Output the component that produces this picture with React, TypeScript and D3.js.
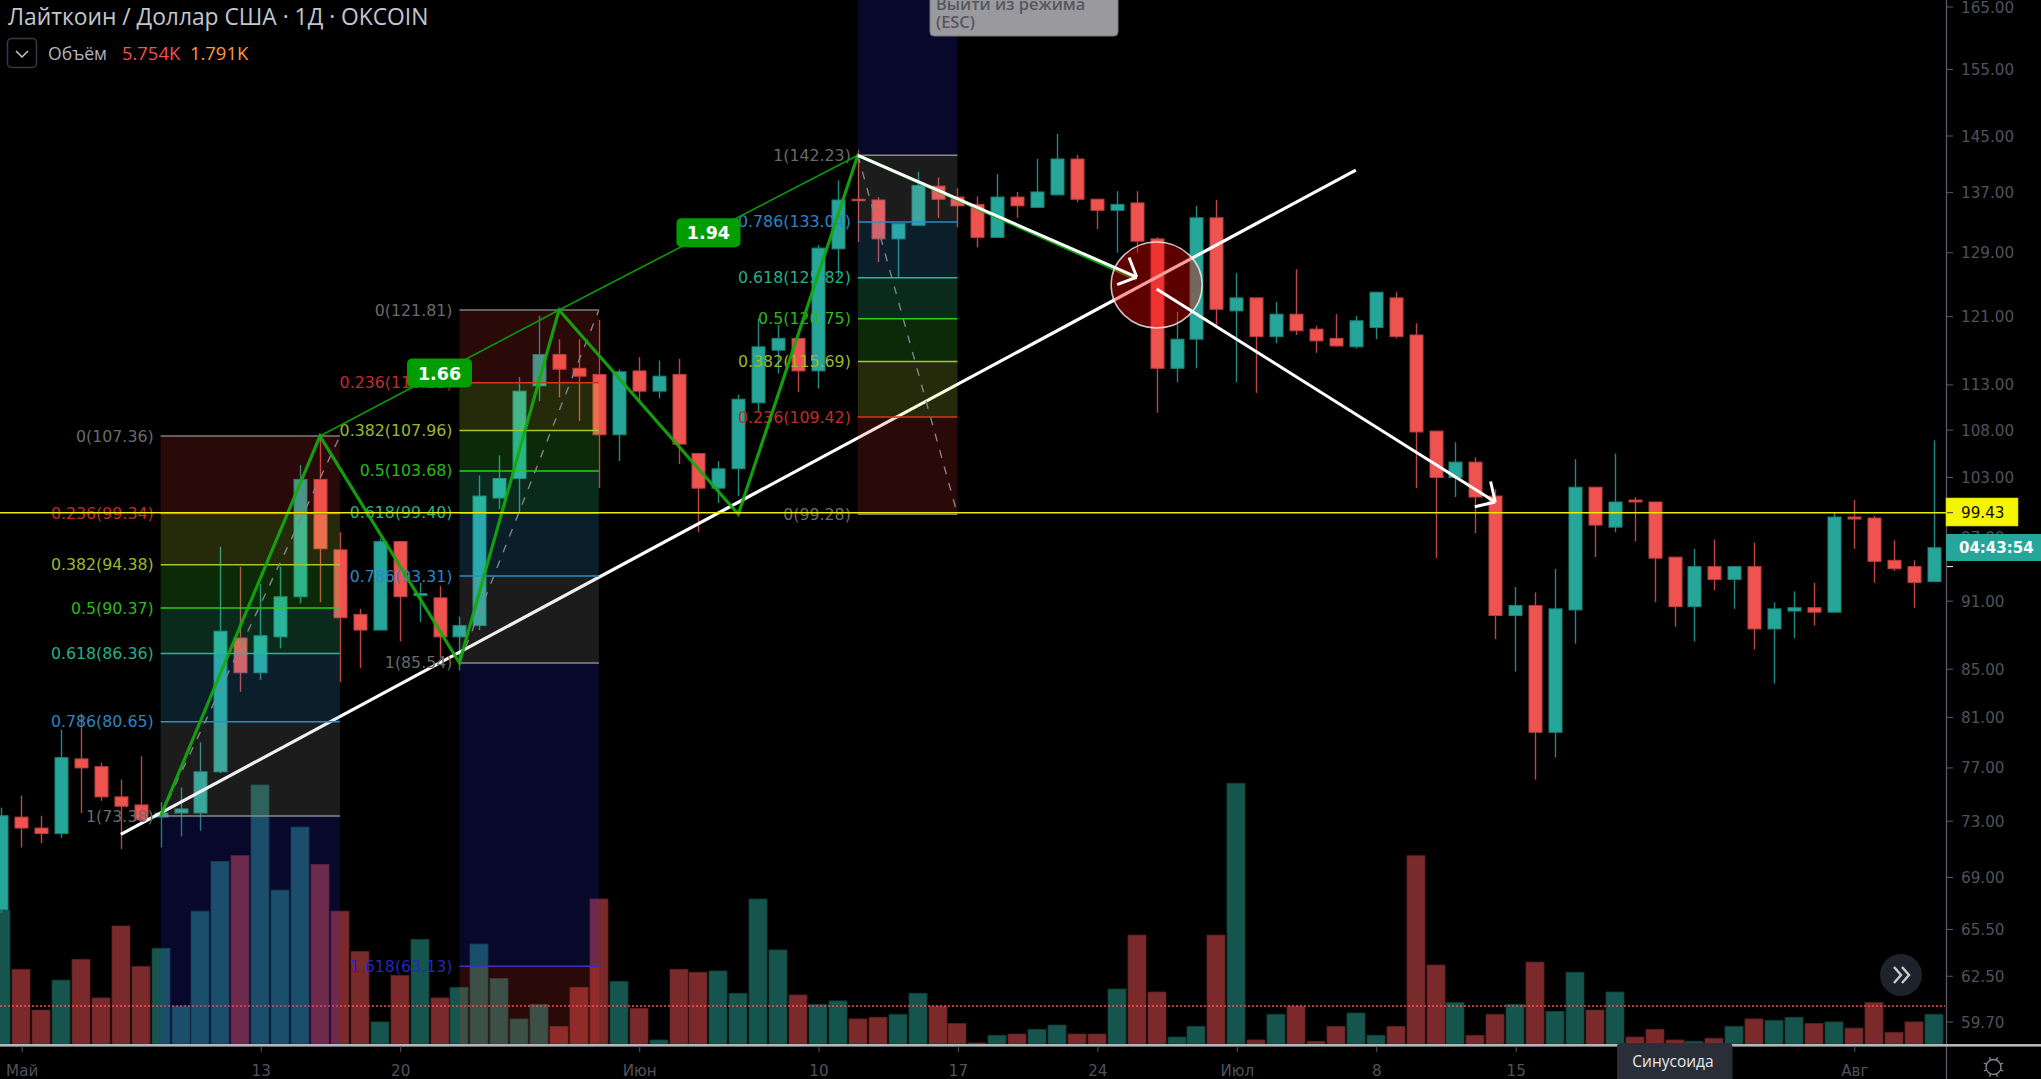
import React, { useEffect } from "react";
import * as d3 from "d3";

const W = 2041, H = 1079;

const opens = [66.8,73.3,72.5,72.1,77.7,77.1,74.8,74.2,73.3,73.6,73.6,76.7,87.7,84.7,87.8,91.4,102.8,95.8,89.8,88.4,96.6,91.5,91.3,87.8,88.8,100.9,102.9,112.9,116.5,114.9,114.2,107.5,114.6,112.3,114.2,105.5,101.9,103.9,111.0,117.0,118.4,114.6,129.5,136.1,136.0,130.8,132.6,137.9,136.4,135.4,131.0,136.4,135.0,136.7,141.7,136.1,134.6,135.6,130.8,114.9,118.3,133.6,121.7,123.3,118.6,121.3,119.5,118.4,117.4,119.7,123.3,118.8,107.9,103.0,104.6,101.1,89.7,90.6,79.8,90.2,102.0,98.0,100.7,100.5,95.1,90.5,94.2,93.0,94.2,88.5,90.1,90.4,90.0,99.0,98.9,94.8,94.2,92.8];
const highs = [74.0,74.9,73.4,80.0,81.3,77.4,76.1,77.9,74.4,75.5,79.0,96.1,94.2,92.6,94.2,104.3,107.6,97.5,90.3,96.9,96.6,92.7,92.4,89.6,103.2,105.3,113.9,121.1,118.3,118.3,120.6,114.8,116.2,115.8,116.0,105.6,104.7,111.9,120.8,120.0,118.4,130.0,138.7,143.0,136.4,132.8,139.9,139.1,137.6,136.5,139.6,137.1,141.7,145.3,142.3,136.1,137.2,137.2,131.0,121.6,135.2,136.0,126.4,123.3,122.8,126.9,119.9,121.3,121.1,124.0,124.0,120.2,107.9,106.7,105.1,101.8,92.3,91.8,94.0,104.9,102.0,105.5,101.0,100.5,95.1,95.9,96.8,94.2,96.5,90.9,91.9,92.7,99.4,100.7,99.1,96.7,94.8,106.9];
const lows = [66.6,71.1,71.4,71.8,73.6,74.5,71.0,72.9,71.1,71.9,72.3,76.6,83.1,84.1,86.8,90.8,90.9,83.9,85.1,88.4,87.4,89.1,86.0,84.9,88.4,99.8,99.4,111.2,111.6,109.0,101.9,104.7,111.2,111.5,104.4,97.5,100.4,101.1,110.0,114.3,112.2,112.6,125.9,130.4,127.8,125.9,132.6,133.6,132.3,129.7,131.0,133.6,135.0,136.7,135.7,132.1,129.0,129.0,109.9,113.3,114.9,120.0,113.3,112.1,117.8,118.8,116.7,117.4,117.2,118.3,118.4,101.9,95.0,101.0,97.4,87.6,84.8,76.1,77.8,87.2,95.1,97.5,96.6,90.9,88.7,87.4,92.0,90.3,86.7,83.8,87.7,88.8,90.0,95.9,92.7,93.8,90.4,92.8];
const closes = [73.4,72.5,72.1,77.8,77.0,74.8,74.1,73.1,73.6,73.9,76.7,88.3,84.7,87.9,91.4,102.8,95.9,89.5,88.4,96.6,91.4,91.7,87.8,88.8,101.1,102.9,112.3,116.5,114.8,114.0,107.5,114.5,112.3,114.0,106.5,101.9,103.9,111.4,117.4,118.4,114.6,129.6,136.0,135.9,130.8,132.8,138.0,136.1,135.2,131.0,136.4,135.2,137.1,141.7,136.1,134.6,135.4,130.5,114.9,118.3,133.6,121.9,123.3,118.6,121.3,119.3,118.1,117.5,120.5,124.0,118.6,107.8,103.0,104.6,101.0,89.7,90.6,79.8,90.3,102.0,98.2,100.5,100.5,95.0,90.5,94.2,93.0,94.2,88.5,90.3,90.4,90.0,99.0,98.8,94.7,94.0,92.7,96.0];
const volumes = [6.31,3.52,1.60,3.01,3.99,2.17,5.56,3.66,4.51,1.79,6.26,8.60,8.87,12.20,7.25,10.22,8.46,6.26,4.36,1.04,3.23,4.93,2.17,2.67,4.71,3.09,1.18,1.87,0.83,2.67,6.83,2.95,1.68,0.19,3.52,3.38,3.44,2.39,6.83,4.43,2.31,1.87,2.03,1.18,1.26,1.40,2.39,1.79,0.97,0.05,0.41,0.47,0.69,0.89,0.47,0.47,2.59,5.13,2.45,0.33,0.83,5.13,12.28,0.19,1.40,1.79,0.13,0.83,1.46,0.41,0.83,8.87,3.72,1.96,0.41,1.40,1.87,3.86,1.54,3.38,1.60,2.45,0.33,0.69,0.19,0.13,0.27,0.83,1.18,1.11,1.26,0.97,1.04,0.75,1.96,0.55,1.04,1.40];
const volumeMA = 1.791;

const priceTicks = [165,155,145,137,129,121,113,108,103,97,91,85,81,77,73,69,65.5,62.5,59.7];
const dateTickIdx = [1,13,20,32,41,48,55,62,69,76,93];
const dateTickLabels = ["Май","13","20","Июн","10","17","24","Июл","8","15","Авг"];

const fibRatios = [0,0.236,0.382,0.5,0.618,0.786,1,1.618];
const fib1Prices = [107.36,99.34,94.38,90.37,86.36,80.65,73.38];
const fib2Prices = [121.81,113.25,107.96,103.68,99.40,93.31,85.54,63.13];
const fib3Prices = [99.28,109.42,115.69,120.75,125.82,133.04,142.23];
const fib1Span = [8,17];
const fib2Span = [23,30];
const fib3Span = [43,48];

const zigIdx = [8,16,23,28,37,43,57];
const zigPrice = [73.38,107.36,85.54,121.81,99.28,142.23,125.6];
const trendIdx = [6,68];
const trendPrice = [72.04,140.14];
const arrow1Idx = [43,57];
const arrow1Price = [142.23,125.9];
const arrow2Idx = [58,75];
const arrow2Price = [124.4,100.5];
const circleIdx = 58;
const circlePrice = 124.9;
const hLinePrice = 99.43;
const lastLabel = "04:43:54";
const lastPrice = 94.2;
const badge1 = "1.66";
const badge2 = "1.94";

const x = d3.scaleLinear().domain([0, 97]).range([1.3, 1933.5]);
const y = d3.scaleLog().domain([165, 59.7]).range([7, 1022]);
const yV = d3.scaleLinear().domain([0, 12.28]).range([1044, 783.3]);

const levelColor = ["#6a6a6a","#c42a2a","#9bb82a","#2cb81c","#23b088","#2a85c4","#6a6a6a","#2626b8"];
const lineColor = ["#7e7e7e","#d8341e","#a4c82a","#2ccc1c","#26b896","#2a8cc8","#8a8a8a","#3a30c0"];
const bandColor = ["rgb(247,59,47)","rgb(218,247,59)","rgb(70,247,47)","rgb(59,247,165)","rgb(59,182,247)","rgb(165,165,165)","rgb(47,47,247)"];
const bandOp = 0.17;
const AXIS_FONT = "'DejaVu Sans', sans-serif";
const LABEL_FONT = "'DejaVu Sans', sans-serif";
const UI_FONT = "'Open Sans', sans-serif";
const BOTTOM = 1044;

function Fib({ prices, span, edgeY }: { prices: number[]; span: number[]; edgeY: number }) {
  const x0 = x(span[0]), x1 = x(span[1]);
  const ys = prices.map((p) => y(p));
  const lastLvl = ys.length - 1;
  return (
    <g>
      {ys.slice(0, -1).map((yy, i) => (
        <rect key={i} x={x0} width={x1 - x0} y={Math.min(yy, ys[i + 1])} height={Math.abs(ys[i + 1] - yy)} fill={bandColor[i]} opacity={bandOp} />
      ))}
      <rect x={x0} width={x1 - x0} y={Math.min(ys[lastLvl], edgeY)} height={Math.abs(edgeY - ys[lastLvl])} fill={bandColor[6]} opacity={bandOp} />
      {ys.map((yy, i) => (
        <line key={i} x1={x0} x2={x1} y1={yy} y2={yy} stroke={lineColor[i]} strokeWidth={1.5} />
      ))}
    </g>
  );
}

function FibLabels({ prices, span }: { prices: number[]; span: number[] }) {
  return (
    <g fontFamily={LABEL_FONT} fontSize={15.8} textAnchor="end">
      {prices.map((p, i) => (
        <text key={i} x={x(span[0]) - 7} y={y(p) + 5.5} fill={levelColor[i]}>
          {`${fibRatios[i]}(${p.toFixed(2)})`}
        </text>
      ))}
    </g>
  );
}

function Arrow({ xs, ps }: { xs: number[]; ps: number[] }) {
  const x0 = x(xs[0]), y0 = y(ps[0]), x1 = x(xs[1]), y1 = y(ps[1]);
  const a = Math.atan2(y1 - y0, x1 - x0);
  const L = 21;
  const wing = (d: number) => `M${x1 + L * Math.cos(a + d)},${y1 + L * Math.sin(a + d)}L${x1},${y1}`;
  return (
    <g stroke="#fff" strokeWidth={3} fill="none">
      <line x1={x0} y1={y0} x2={x1} y2={y1} />
      <path d={wing(Math.PI * 0.75)} />
      <path d={wing(-Math.PI * 0.75)} />
    </g>
  );
}

function Badge({ cx, cy, w, h, text }: { cx: number; cy: number; w: number; h: number; text: string }) {
  return (
    <g>
      <rect x={cx - w / 2} y={cy - h / 2} width={w} height={h} rx={5} fill="#009e00" />
      <text x={cx} y={cy + 6.5} textAnchor="middle" fill="#fff" fontFamily={LABEL_FONT} fontSize={17.5} fontWeight={600}>{text}</text>
    </g>
  );
}

export default function App() {
  useEffect(() => {
    document.body.style.margin = "0";
    document.body.style.overflow = "hidden";
  }, []);
  const zig = d3.line<number>().x((d) => x(d)).y((_, i) => y(zigPrice[i]));
  const isUp = (i: number) => closes[i] >= opens[i];

  const b1x = (x(zigIdx[1]) + x(zigIdx[3])) / 2, b1y = (y(zigPrice[1]) + y(zigPrice[3])) / 2;
  const b2x = (x(zigIdx[3]) + x(zigIdx[5])) / 2, b2y = (y(zigPrice[3]) + y(zigPrice[5])) / 2;

  const fib2Y = fib2Prices.map((p) => y(p));

  return (
    <svg width={W} height={H} viewBox={`0 0 ${W} ${H}`} style={{ position: "fixed", left: 0, top: 0, background: "#000", display: "block" }}>
      <defs>
        <clipPath id="pane"><rect x={0} y={0} width={1946} height={BOTTOM} /></clipPath>
      </defs>
      <rect x={0} y={0} width={W} height={H} fill="#000" />

      <g clipPath="url(#pane)">
        {volumes.map((v, i) => (
          <rect key={i} x={Math.round(x(i)) - 9} width={18} y={yV(v)} height={BOTTOM - yV(v)}
            fill={isUp(i) ? "#16554d" : "#7a2a2a"} stroke={isUp(i) ? "#103f3a" : "#5e2222"} strokeWidth={0.8} />
        ))}
        <line x1={0} x2={1945} y1={yV(volumeMA)} y2={yV(volumeMA)} stroke="#ef5350" strokeWidth={1.5} strokeDasharray="2 2" />

        {opens.map((o, i) => {
          const up = isUp(i);
          const cx = Math.round(x(i));
          const top = y(Math.max(o, closes[i]));
          const bot = y(Math.min(o, closes[i]));
          return (
            <g key={i}>
              <line x1={cx + 0.5} x2={cx + 0.5} y1={y(highs[i])} y2={y(lows[i])} stroke={up ? "#1f8a80" : "#c04442"} strokeWidth={1.4} />
              <rect x={cx - 6} width={13} y={top} height={Math.max(bot - top, 1.5)} fill={up ? "#26a69a" : "#ef5350"} stroke={up ? "#1e8277" : "#b8403e"} strokeWidth={1} />
            </g>
          );
        })}

        <line x1={x(trendIdx[0])} y1={y(trendPrice[0])} x2={x(trendIdx[1])} y2={y(trendPrice[1])} stroke="#fff" strokeWidth={3.2} />

        <Fib prices={fib1Prices} span={fib1Span} edgeY={BOTTOM} />
        <Fib prices={fib2Prices.slice(0, 7)} span={fib2Span} edgeY={fib2Y[7]} />
        <rect x={x(fib2Span[0])} width={x(fib2Span[1]) - x(fib2Span[0])} y={fib2Y[7]} height={BOTTOM - fib2Y[7]} fill={bandColor[0]} opacity={bandOp} />
        <line x1={x(fib2Span[0])} x2={x(fib2Span[1])} y1={fib2Y[7]} y2={fib2Y[7]} stroke={lineColor[7]} strokeWidth={1.5} />
        <Fib prices={fib3Prices} span={fib3Span} edgeY={0} />

        <g stroke="#80838c" strokeWidth={1.4} strokeDasharray="8 9" fill="none">
          <line x1={x(fib1Span[0])} y1={y(fib1Prices[6])} x2={x(fib1Span[1])} y2={y(fib1Prices[0])} />
          <line x1={x(fib2Span[0])} y1={y(fib2Prices[6])} x2={x(fib2Span[1])} y2={y(fib2Prices[0])} />
          <line x1={x(fib3Span[0])} y1={y(fib3Prices[6])} x2={x(fib3Span[1])} y2={y(fib3Prices[0])} />
        </g>

        <FibLabels prices={fib1Prices} span={fib1Span} />
        <FibLabels prices={fib2Prices} span={fib2Span} />
        <FibLabels prices={fib3Prices} span={fib3Span} />

        <path d={`M${x(zigIdx[1])},${y(zigPrice[1])}L${x(zigIdx[3])},${y(zigPrice[3])}L${x(zigIdx[5])},${y(zigPrice[5])}`} fill="none" stroke="#0a9a0a" strokeWidth={1.6} />
        <path d={zig(zigIdx) ?? ""} fill="none" stroke="#17a80f" strokeWidth={3.2} opacity={0.92} />
        <Badge cx={b1x} cy={b1y} w={65} h={29} text={badge1} />
        <Badge cx={b2x} cy={b2y} w={64} h={29} text={badge2} />

        <ellipse cx={x(circleIdx)} cy={y(circlePrice)} rx={45.5} ry={43} fill="rgb(242,0,0)" fillOpacity={0.38} stroke="#fff" strokeOpacity={0.75} strokeWidth={1.5} />

        <Arrow xs={arrow1Idx} ps={arrow1Price} />
        <Arrow xs={arrow2Idx} ps={arrow2Price} />

        <line x1={0} x2={1946} y1={y(hLinePrice)} y2={y(hLinePrice)} stroke="#ecec00" strokeWidth={1.6} />
      </g>

      <g>
        <rect x={930} y={-8} width={188} height={44} rx={4} fill="#9a9a9e" stroke="#77777a" strokeWidth={1} />
        <text x={936} y={10} fontFamily={UI_FONT} fontWeight={600} fontSize={16.4} fill="#56565e">Выйти из режима</text>
        <text x={936} y={28} fontFamily={UI_FONT} fontWeight={600} fontSize={16.4} fill="#56565e">(ESC)</text>
      </g>

      <line x1={1946.5} x2={1946.5} y1={0} y2={H} stroke="#585b65" strokeWidth={1.3} />
      <g fontFamily={AXIS_FONT} fontSize={15.2} fill="#4f525c">
        {priceTicks.map((t) => (
          <g key={t}>
            <line x1={1947} x2={1953} y1={y(t)} y2={y(t)} stroke="#585b65" />
            <text x={1961} y={y(t) + 5.5}>{t.toFixed(2)}</text>
          </g>
        ))}
      </g>
      <rect x={1946} y={498} width={72} height={28} fill="#f5f500" stroke="#c9c900" strokeWidth={0.6} />
      <line x1={1947} x2={1953} y1={y(hLinePrice)} y2={y(hLinePrice)} stroke="#333" />
      <text x={1961} y={y(hLinePrice) + 5.5} fontFamily={AXIS_FONT} fontSize={15.2} fill="#111">{hLinePrice.toFixed(2)}</text>
      <rect x={1946} y={534} width={95} height={27} fill="#26a69a" />
      <line x1={1947} x2={1953} y1={y(lastPrice)} y2={y(lastPrice)} stroke="#fff" />
      <text x={1959} y={553} fontFamily={AXIS_FONT} fontSize={15} fontWeight={600} fill="#fff">{lastLabel}</text>

      <rect x={0} y={1044} width={W} height={2.6} fill="#b4b6bd" />
      <g fontFamily={AXIS_FONT} fontSize={15.2} fill="#4f525c" textAnchor="middle">
        {dateTickIdx.map((d, i) => (
          <g key={d}>
            <line x1={x(d) + 1} x2={x(d) + 1} y1={1046} y2={1052} stroke="#585b65" />
            <text x={x(d) + 1} y={1076}>{dateTickLabels[i]}</text>
          </g>
        ))}
      </g>

      <path d="M1617,1079V1047a4,4 0 0 1 4,-4H1728.5a4,4 0 0 1 4,4V1079Z" fill="#2a2e39" />
      <text x={1673} y={1067} textAnchor="middle" fontFamily={UI_FONT} fontSize={15.5} fill="#e6e7eb">Синусоида</text>

      <circle cx={1901} cy={975} r={21} fill="#1e222d" />
      <path d="M1894,967l7,8l-7,8M1902,967l7,8l-7,8" fill="none" stroke="#c8cad0" strokeWidth={2.4} />

      <g stroke="#868993" fill="none" strokeWidth={1.3}>
        <circle cx={1993.5} cy={1067} r={7.5} />
        {d3.range(8).map((k) => {
          const a = (k * Math.PI) / 4 + Math.PI / 8;
          return <line key={k} x1={1993.5 + 7.5 * Math.cos(a)} y1={1067 + 7.5 * Math.sin(a)} x2={1993.5 + 10.5 * Math.cos(a)} y2={1067 + 10.5 * Math.sin(a)} />;
        })}
      </g>

      <text x={8} y={25} fontFamily={UI_FONT} fontSize={22.8} fill="#c3c6cf">Лайткоин / Доллар США · 1Д · OKCOIN</text>
      <rect x={7.5} y={38.5} width={29} height={29} rx={4} fill="none" stroke="#363a45" strokeWidth={1.5} />
      <path d="M16,51l6,6l6,-6" fill="none" stroke="#c3c6cf" strokeWidth={1.5} />
      <text x={48} y={60} fontFamily={UI_FONT} fontSize={17.6} fill="#b2b5be">Объём</text>
      <text x={122} y={60} fontFamily={UI_FONT} fontSize={18.4} fill="#ef5350">5.754K</text>
      <text x={190} y={60} fontFamily={UI_FONT} fontSize={18.4} fill="#ff9838">1.791K</text>
    </svg>
  );
}
